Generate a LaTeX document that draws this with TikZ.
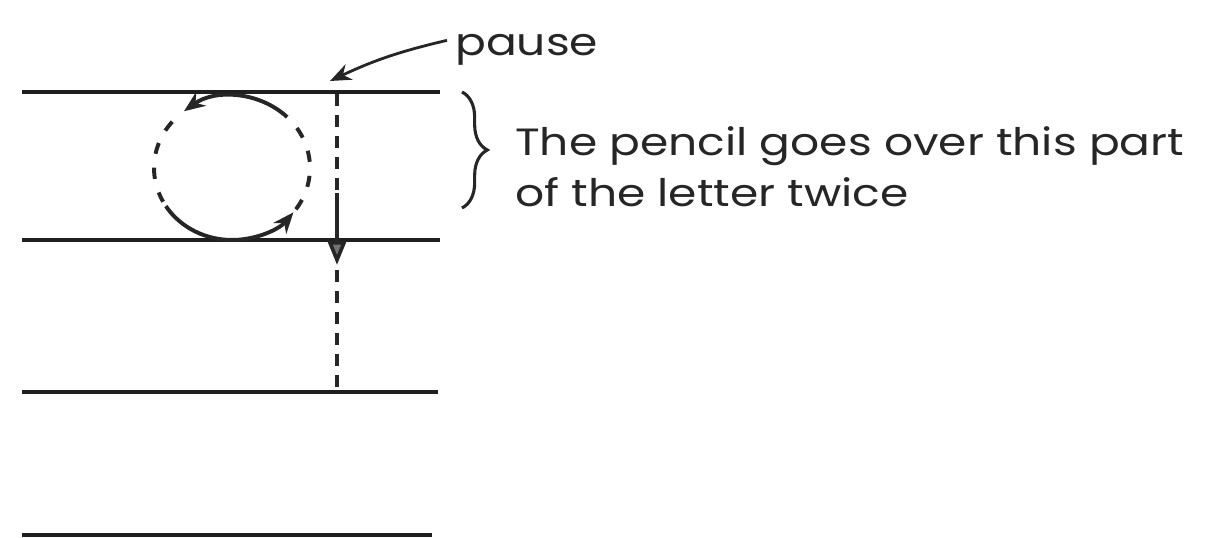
\documentclass[tikz,border=0pt]{standalone}
\usepackage{fontspec}
\setmainfont{Poppins}
\usetikzlibrary{arrows.meta,decorations.pathreplacing,calc}
\newcommand{\widetxt}[1]{\scalebox{1.2}[1]{#1}}
\begin{document}
\begin{tikzpicture}[x=0.025cm,y=0.025cm,
  ruled/.style={line width=2.6pt,draw=black!88},
  dashv/.style={line width=2.8pt,draw=black!85,dash pattern=on 8.5pt off 6.5pt},
  dashc/.style={line width=2.8pt,draw=black!85,dash pattern=on 8pt off 10pt},
  solidc/.style={line width=2.8pt,draw=black!85},
  tip/.style={-{Stealth[length=15pt,width=12pt]}},
  lbl/.style={font=\fontsize{27}{36}\selectfont,text=black!85,inner sep=0pt,align=left}]
\useasboundingbox (0,0) rectangle (1211,538);
% guide lines
\coordinate (l1a) at (22,446); \coordinate (l1b) at (440,446);
\coordinate (l2a) at (22,298); \coordinate (l2b) at (440,298);
\coordinate (l3a) at (22,146); \coordinate (l3b) at (438,146);
\coordinate (l4a) at (22,3);   \coordinate (l4b) at (432,3);
\draw[ruled] (l1a) -- (l1b);
\draw[ruled] (l2a) -- (l2b);
\draw[ruled] (l3a) -- (l3b);
\draw[ruled] (l4a) -- (l4b);
% vertical stroke
\coordinate (v0) at (337,444);
\coordinate (v1) at (337,345);
\coordinate (v2) at (337,273);
\coordinate (v3) at (337,268);
\coordinate (v4) at (337,146);
\draw[dashv] (v0) -- (v1);
\draw[line width=2.6pt,draw=black!85,-{Triangle[length=17pt,width=13pt,fill=black!55]}] (v1) -- (v2);
\draw[dashv] (v3) -- (v4);
% circle
\coordinate (c) at (232,370);
\draw[solidc,tip] ($(c)+(45:78 and 72)$) arc[start angle=45,end angle=128,x radius=78,y radius=72];
\draw[dashc] ($(c)+(140:78 and 72)$) arc[start angle=140,end angle=208,x radius=78,y radius=72];
\draw[solidc,tip] ($(c)+(212:78 and 72)$) arc[start angle=212,end angle=322,x radius=78,y radius=72];
\draw[dashc] ($(c)+(325:78 and 72)$) arc[start angle=325,end angle=400,x radius=78,y radius=72];
% pause label
\node[lbl,anchor=base west] (pause) at (455,482) {\widetxt{pause}};
\coordinate (pt) at (330,457);
\draw[line width=2pt,draw=black!85,tip] (pause.west) ++(-8,10) to[bend right=6] (pt);
% brace
\coordinate (b1) at (462,446);
\coordinate (b2) at (462,330);
\draw[line width=2.2pt,draw=black!85,decorate,decoration={brace,amplitude=18pt}] (b1) -- (b2);
\node[lbl,anchor=base west] (t1) at (515,382) {\widetxt{The pencil goes over this part}};
\node[lbl,anchor=base west] (t2) at (515,331) {\widetxt{of the letter twice}};
\end{tikzpicture}
\end{document}
